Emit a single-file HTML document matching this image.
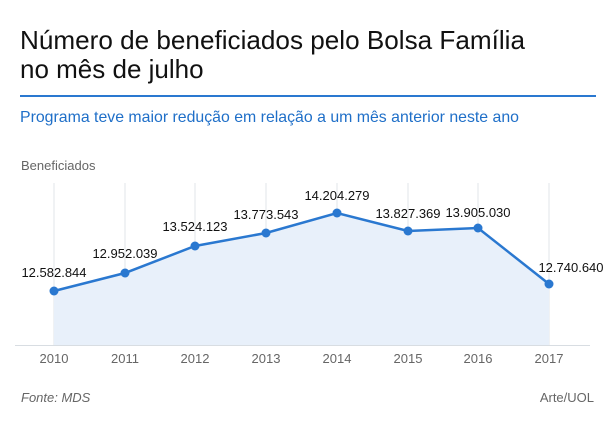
<!DOCTYPE html>
<html><head><meta charset="utf-8"><style>
body{margin:0;width:615px;height:422px;background:#fff;overflow:hidden;font-family:"Liberation Sans",sans-serif}
</style></head><body>
<svg width="615" height="422" xmlns="http://www.w3.org/2000/svg" font-family="Liberation Sans, sans-serif">
<text x="20" y="49" font-size="26" fill="#111" textLength="505" lengthAdjust="spacingAndGlyphs">Número de beneficiados pelo Bolsa Família</text>
<text x="20" y="78" font-size="26" fill="#111">no mês de julho</text>
<rect x="20" y="95" width="576" height="2" fill="#2a78d0"/>
<text x="20" y="122" font-size="16" fill="#1f6fc8" textLength="499" lengthAdjust="spacingAndGlyphs">Programa teve maior redução em relação a um mês anterior neste ano</text>
<text x="21" y="170" font-size="13" fill="#666">Beneficiados</text>
<g stroke="#e2e6ea" stroke-width="1">
<line x1="54" y1="183" x2="54" y2="345"/><line x1="125" y1="183" x2="125" y2="345"/>
<line x1="195" y1="183" x2="195" y2="345"/><line x1="266" y1="183" x2="266" y2="345"/>
<line x1="337" y1="183" x2="337" y2="345"/><line x1="408" y1="183" x2="408" y2="345"/>
<line x1="478" y1="183" x2="478" y2="345"/><line x1="549" y1="183" x2="549" y2="345"/>
</g>
<polygon points="54,291 125,273 195,246 266,233 337,213 408,231 478,228 549,284 549,345 54,345" fill="#e8f0fa"/>
<line x1="15" y1="345.5" x2="590" y2="345.5" stroke="#d8dde2" stroke-width="1"/>
<polyline points="54,291 125,273 195,246 266,233 337,213 408,231 478,228 549,284" fill="none" stroke="#2a78d0" stroke-width="2.5"/>
<g fill="#2a78d0">
<circle cx="54" cy="291" r="4.5"/><circle cx="125" cy="273" r="4.5"/><circle cx="195" cy="246" r="4.5"/><circle cx="266" cy="233" r="4.5"/>
<circle cx="337" cy="213" r="4.5"/><circle cx="408" cy="231" r="4.5"/><circle cx="478" cy="228" r="4.5"/><circle cx="549" cy="284" r="4.5"/>
</g>
<g font-size="13" fill="#111" text-anchor="middle">
<text x="54" y="277">12.582.844</text><text x="125" y="258">12.952.039</text>
<text x="195" y="231">13.524.123</text><text x="266" y="219">13.773.543</text>
<text x="337" y="200">14.204.279</text><text x="408" y="218">13.827.369</text>
<text x="478" y="217">13.905.030</text><text x="571" y="272">12.740.640</text>
</g>
<g font-size="13" fill="#666" text-anchor="middle">
<text x="54" y="363">2010</text><text x="125" y="363">2011</text><text x="195" y="363">2012</text><text x="266" y="363">2013</text>
<text x="337" y="363">2014</text><text x="408" y="363">2015</text><text x="478" y="363">2016</text><text x="549" y="363">2017</text>
</g>
<text x="21" y="402" font-size="13" font-style="italic" fill="#666">Fonte: MDS</text>
<text x="594" y="402" font-size="13" fill="#666" text-anchor="end">Arte/UOL</text>
</svg>
</body></html>
